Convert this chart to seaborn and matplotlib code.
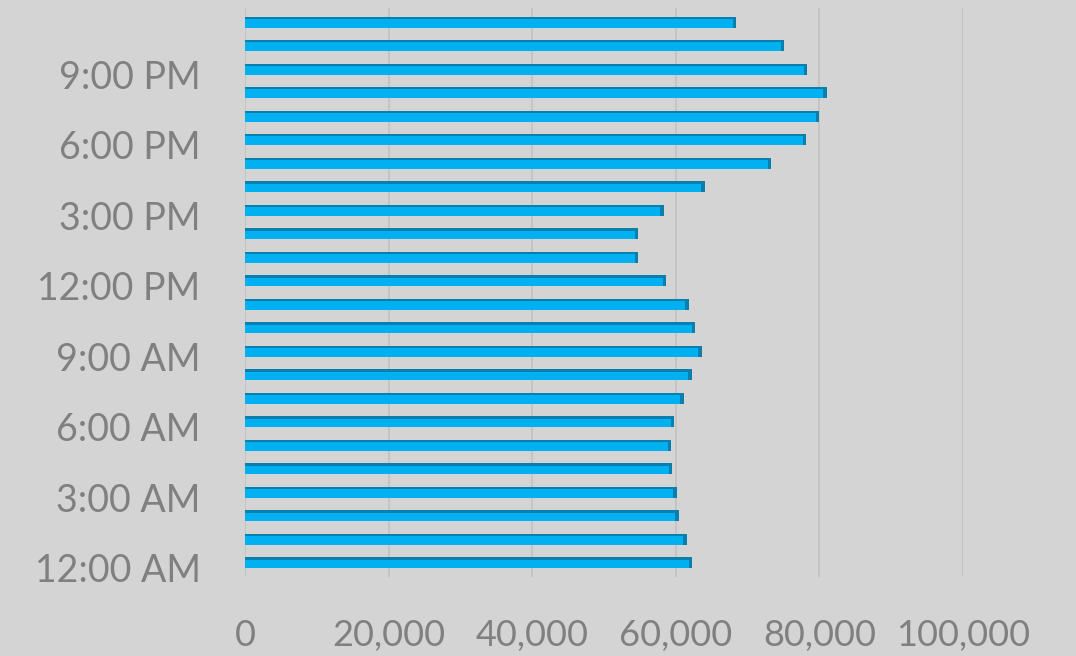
import numpy as np
import pandas as pd
import matplotlib
matplotlib.use("Agg")
import matplotlib.pyplot as plt
import matplotlib.transforms as mtransforms
import seaborn as sns

# Data
hours = ["12:00 AM", "1:00 AM", "2:00 AM", "3:00 AM", "4:00 AM", "5:00 AM",
         "6:00 AM", "7:00 AM", "8:00 AM", "9:00 AM", "10:00 AM", "11:00 AM",
         "12:00 PM", "1:00 PM", "2:00 PM", "3:00 PM", "4:00 PM", "5:00 PM",
         "6:00 PM", "7:00 PM", "8:00 PM", "9:00 PM", "10:00 PM", "11:00 PM"]
counts = [62300, 61500, 60400, 60100, 59500, 59300,
          59800, 61100, 62200, 63600, 62700, 61800,
          58700, 54800, 54800, 58300, 64000, 73300,
          78100, 80000, 81000, 78300, 75100, 68400]
x_ticks = [0, 20000, 40000, 60000, 80000, 100000]

bg = "#d4d4d4"
bar_color = "#00b0f0"
dark = "#0a7fae"
text_color = "#808080"

sns.set_theme(style="white")
plt.rcParams["font.family"] = ["Lato", "DejaVu Sans"]

df = pd.DataFrame({"hour": hours, "count": counts})
order = hours[::-1]  # top of chart = 11 PM

fig = plt.figure(figsize=(10.76, 6.56), dpi=100, facecolor=bg)
ax = fig.add_axes([245 / 1076, 1 - 577 / 656, 718 / 1076, 569 / 656])
ax.set_facecolor(bg)

bar_h = 0.47
sns.barplot(data=df, x="count", y="hour", order=order, orient="h",
            color=bar_color, width=bar_h, saturation=1, linewidth=0,
            ax=ax, zorder=3)

# pseudo-3D: dark top strip and dark end cap
pos = np.array([order.index(h) for h in hours])
vals = np.array(counts)
ax.barh(pos - bar_h / 2 + 0.05, vals, height=0.1, color=dark, zorder=4, linewidth=0)
ax.barh(pos, 450, left=vals - 450, height=bar_h, color=dark, zorder=4, linewidth=0)

ax.set_xlim(0, 100000)
ax.set_ylim(23.6, -0.6)
ax.set_xticks(x_ticks)
ax.set_xticklabels([f"{t:,}" for t in x_ticks])
ax.set_yticks(range(len(order)))
ax.set_yticklabels([h if (23 - i) % 3 == 0 else "" for i, h in enumerate(order)])

ax.xaxis.grid(True, color="#c0c0c0", linewidth=1.1, zorder=0)
ax.yaxis.grid(False)
for s in ax.spines.values():
    s.set_visible(False)
ax.set_xlabel("")
ax.set_ylabel("")
ax.tick_params(axis="both", length=0, labelcolor=text_color)
ax.tick_params(axis="y", pad=32, labelsize=27)
ax.tick_params(axis="x", pad=30, labelsize=26)

# labels sit slightly below their bars (3-D offset)
shift = mtransforms.ScaledTranslation(0, -5 / 100, fig.dpi_scale_trans)
for lbl in ax.get_yticklabels():
    lbl.set_transform(lbl.get_transform() + shift)

fig.savefig("out.png", dpi=100, facecolor=bg)
